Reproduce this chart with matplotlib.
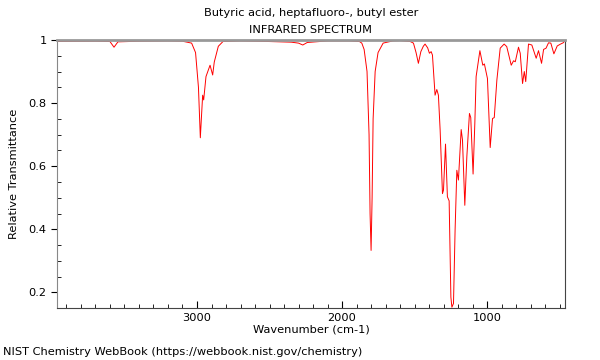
import matplotlib
matplotlib.use("Agg")
import matplotlib.pyplot as plt
from matplotlib.ticker import MultipleLocator, FormatStrFormatter

# wavenumber (cm-1) and transmittance
wavenumber = [
    3965, 3700, 3600, 3572, 3545, 3400, 3200, 3100, 3037, 3010, 2990, 2977,
    2970, 2961, 2954, 2938, 2910, 2892, 2881, 2853, 2821, 2700, 2500, 2350,
    2300, 2271, 2240, 2100, 1950, 1880, 1864, 1848, 1828, 1814, 1807, 1800,
    1793, 1786, 1772, 1752, 1717, 1650, 1600, 1530, 1508, 1490, 1474, 1457,
    1440, 1428, 1410, 1398, 1386, 1377, 1359, 1347, 1336, 1324, 1308, 1301,
    1287, 1274, 1262, 1250, 1243, 1232, 1221, 1209, 1198, 1179, 1170, 1154,
    1140, 1122, 1113, 1097, 1085, 1076, 1050, 1030, 1019, 998, 979, 963,
    951, 933, 910, 883, 865, 834, 818, 806, 784, 772, 756, 744, 734, 715,
    692, 662, 646, 625, 611, 594, 577, 561, 540, 517, 494, 476, 462,
]
transmittance = [
    0.995, 0.996, 0.995, 0.977, 0.994, 0.996, 0.997, 0.996, 0.99, 0.96, 0.85, 0.69,
    0.75, 0.825, 0.81, 0.884, 0.92, 0.889, 0.93, 0.98, 0.995, 0.997, 0.995, 0.993,
    0.99, 0.984, 0.992, 0.997, 0.997, 0.995, 0.99, 0.97, 0.9, 0.7, 0.45, 0.333,
    0.5, 0.75, 0.9, 0.96, 0.99, 0.997, 0.998, 0.995, 0.99, 0.96, 0.926, 0.963,
    0.98, 0.987, 0.975, 0.958, 0.963, 0.952, 0.825, 0.843, 0.825, 0.714, 0.513, 0.524,
    0.67, 0.503, 0.49, 0.185, 0.153, 0.165, 0.397, 0.587, 0.556, 0.716, 0.683, 0.476,
    0.63, 0.767, 0.754, 0.575, 0.735, 0.884, 0.966, 0.92, 0.924, 0.878, 0.659, 0.751,
    0.754, 0.873, 0.974, 0.987, 0.979, 0.92, 0.934, 0.931, 0.977, 0.958, 0.862, 0.9,
    0.868, 0.987, 0.984, 0.942, 0.966, 0.926, 0.97, 0.974, 0.991, 0.99, 0.956, 0.981,
    0.987, 0.991, 0.998,
]

fs = 8.2
fig = plt.figure(figsize=(6, 3.6), dpi=100)
ax = fig.add_axes([0.095, 0.144, 0.847, 0.745])
ax.plot(wavenumber, transmittance, color="red", linewidth=0.7)

ax.set_xlim(3965, 462)
ax.set_ylim(0.15, 1.0)
ax.xaxis.set_major_locator(MultipleLocator(1000))
ax.xaxis.set_minor_locator(MultipleLocator(100))
ax.yaxis.set_major_locator(MultipleLocator(0.2))
ax.yaxis.set_minor_locator(MultipleLocator(0.05))
ax.yaxis.set_major_formatter(FormatStrFormatter("%g"))
ax.tick_params(axis="x", which="both", direction="in", labelsize=fs)
ax.tick_params(axis="x", which="major", length=5)
ax.tick_params(axis="x", which="minor", length=3)
ax.tick_params(axis="y", which="major", direction="out", length=4, labelsize=fs)
ax.tick_params(axis="y", which="minor", direction="in", length=3)

for side in ["left", "bottom", "right"]:
    ax.spines[side].set_color("#444444")
ax.spines["left"].set_color("#888888")
ax.spines["top"].set_color("#999999")
ax.spines["top"].set_linewidth(2)

ax.set_xlabel("Wavenumber (cm-1)", fontsize=fs, labelpad=1)
ax.set_ylabel("Relative Transmittance", fontsize=fs, labelpad=7)
# titles centred over the plot area
fig.text(0.518, 0.963, "Butyric acid, heptafluoro-, butyl ester", ha="center", va="center", fontsize=fs)
fig.text(0.518, 0.916, "INFRARED SPECTRUM", ha="center", va="center", fontsize=fs)
fig.text(0.005, 0.022, "NIST Chemistry WebBook (https://webbook.nist.gov/chemistry)",
         ha="left", va="center", fontsize=fs)

fig.savefig("out.png", dpi=100)
